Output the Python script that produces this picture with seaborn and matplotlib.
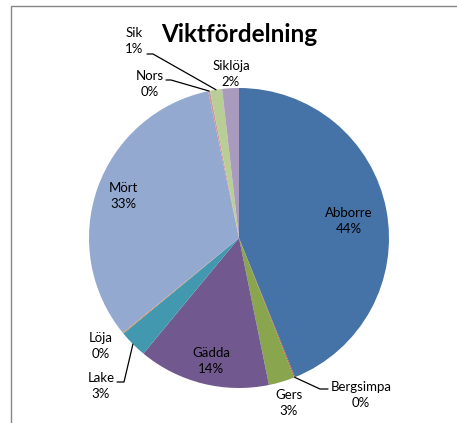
import matplotlib
matplotlib.use("Agg")
import matplotlib.pyplot as plt
import numpy as np
import seaborn as sns
from matplotlib.lines import Line2D

# data (percent of total weight)
species = ["Abborre", "Bergsimpa", "Gers", "Gädda", "Lake",
           "Löja", "Mört", "Nors", "Sik", "Siklöja"]
weights = [43.9, 0.1, 2.8, 14.2, 3.0, 0.1, 32.6, 0.2, 1.3, 1.8]
colors = ["#4572A7", "#AA4643", "#89A54E", "#71588F", "#4198AF",
          "#DB843D", "#93A9CF", "#D09493", "#B9CD96", "#A99BBD"]

W, H = 457, 423
CX, CY, R = 239, 238, 150


def px(x, y):
    # pixel position in the picture -> data coords of the pie axes
    return (x - CX) / R, (CY - y) / R


sns.set_theme(style="white")
plt.rcParams["font.family"] = ["Lato", "DejaVu Sans"]
plt.rcParams["text.color"] = "black"

fig = plt.figure(figsize=(W / 100, H / 100), dpi=100)
ax = fig.add_axes([0, 0, 1, 1])
wedges, _ = ax.pie(weights, colors=colors, startangle=90, counterclock=False,
                   radius=1, center=(0, 0), wedgeprops=dict(linewidth=0))
ax.set_xlim(-CX / R, (W - CX) / R)
ax.set_ylim(-(H - CY) / R, CY / R)
ax.set_aspect("equal")
ax.axis("off")

total = sum(weights)
pct = [f"{round(100 * w / total)}%" for w in weights]

# label centres, in picture pixels
label_pos = {
    "Abborre": (349, 221),
    "Bergsimpa": (361, 395),
    "Gers": (289, 403),
    "Gädda": (211, 361),
    "Lake": (101, 386),
    "Löja": (101, 346),
    "Mört": (123, 196),
    "Nors": (150, 84),
    "Sik": (134, 41),
    "Siklöja": (231, 74),
}
for name, p in zip(species, pct):
    x, y = px(*label_pos[name])
    ax.text(x, y, f"{name}\n{p}", ha="center", va="center", fontsize=9.5,
            linespacing=1.45, color="black")


def edge_point(i):
    w = wedges[i]
    a = np.deg2rad((w.theta1 + w.theta2) / 2)
    return np.cos(a), np.sin(a)


# leader lines from the label to the middle of the slice edge
leaders = {
    "Nors": [(166, 80), (171, 80)],
    "Sik": [(147, 54), (153, 54)],
    "Bergsimpa": [(328, 389), (320, 389)],
    "Lake": [(117, 382), (124, 382)],
}
for name, pts in leaders.items():
    xs = [px(*p)[0] for p in pts]
    ys = [px(*p)[1] for p in pts]
    ex, ey = edge_point(species.index(name))
    ax.plot(xs + [ex], ys + [ey], color="black", lw=0.9)

fig.text(239 / W, 1 - 34 / H, "Viktfördelning", ha="center", va="center",
         fontsize=17.5, fontweight="bold", color="black")

# chart area border (only top and left edges fall inside the picture)
fig.add_artist(Line2D([11 / W, 11 / W, 1], [0, 1 - 6 / H, 1 - 6 / H],
                      transform=fig.transFigure, color="#868686", lw=1))

fig.savefig("out.png", dpi=100)
